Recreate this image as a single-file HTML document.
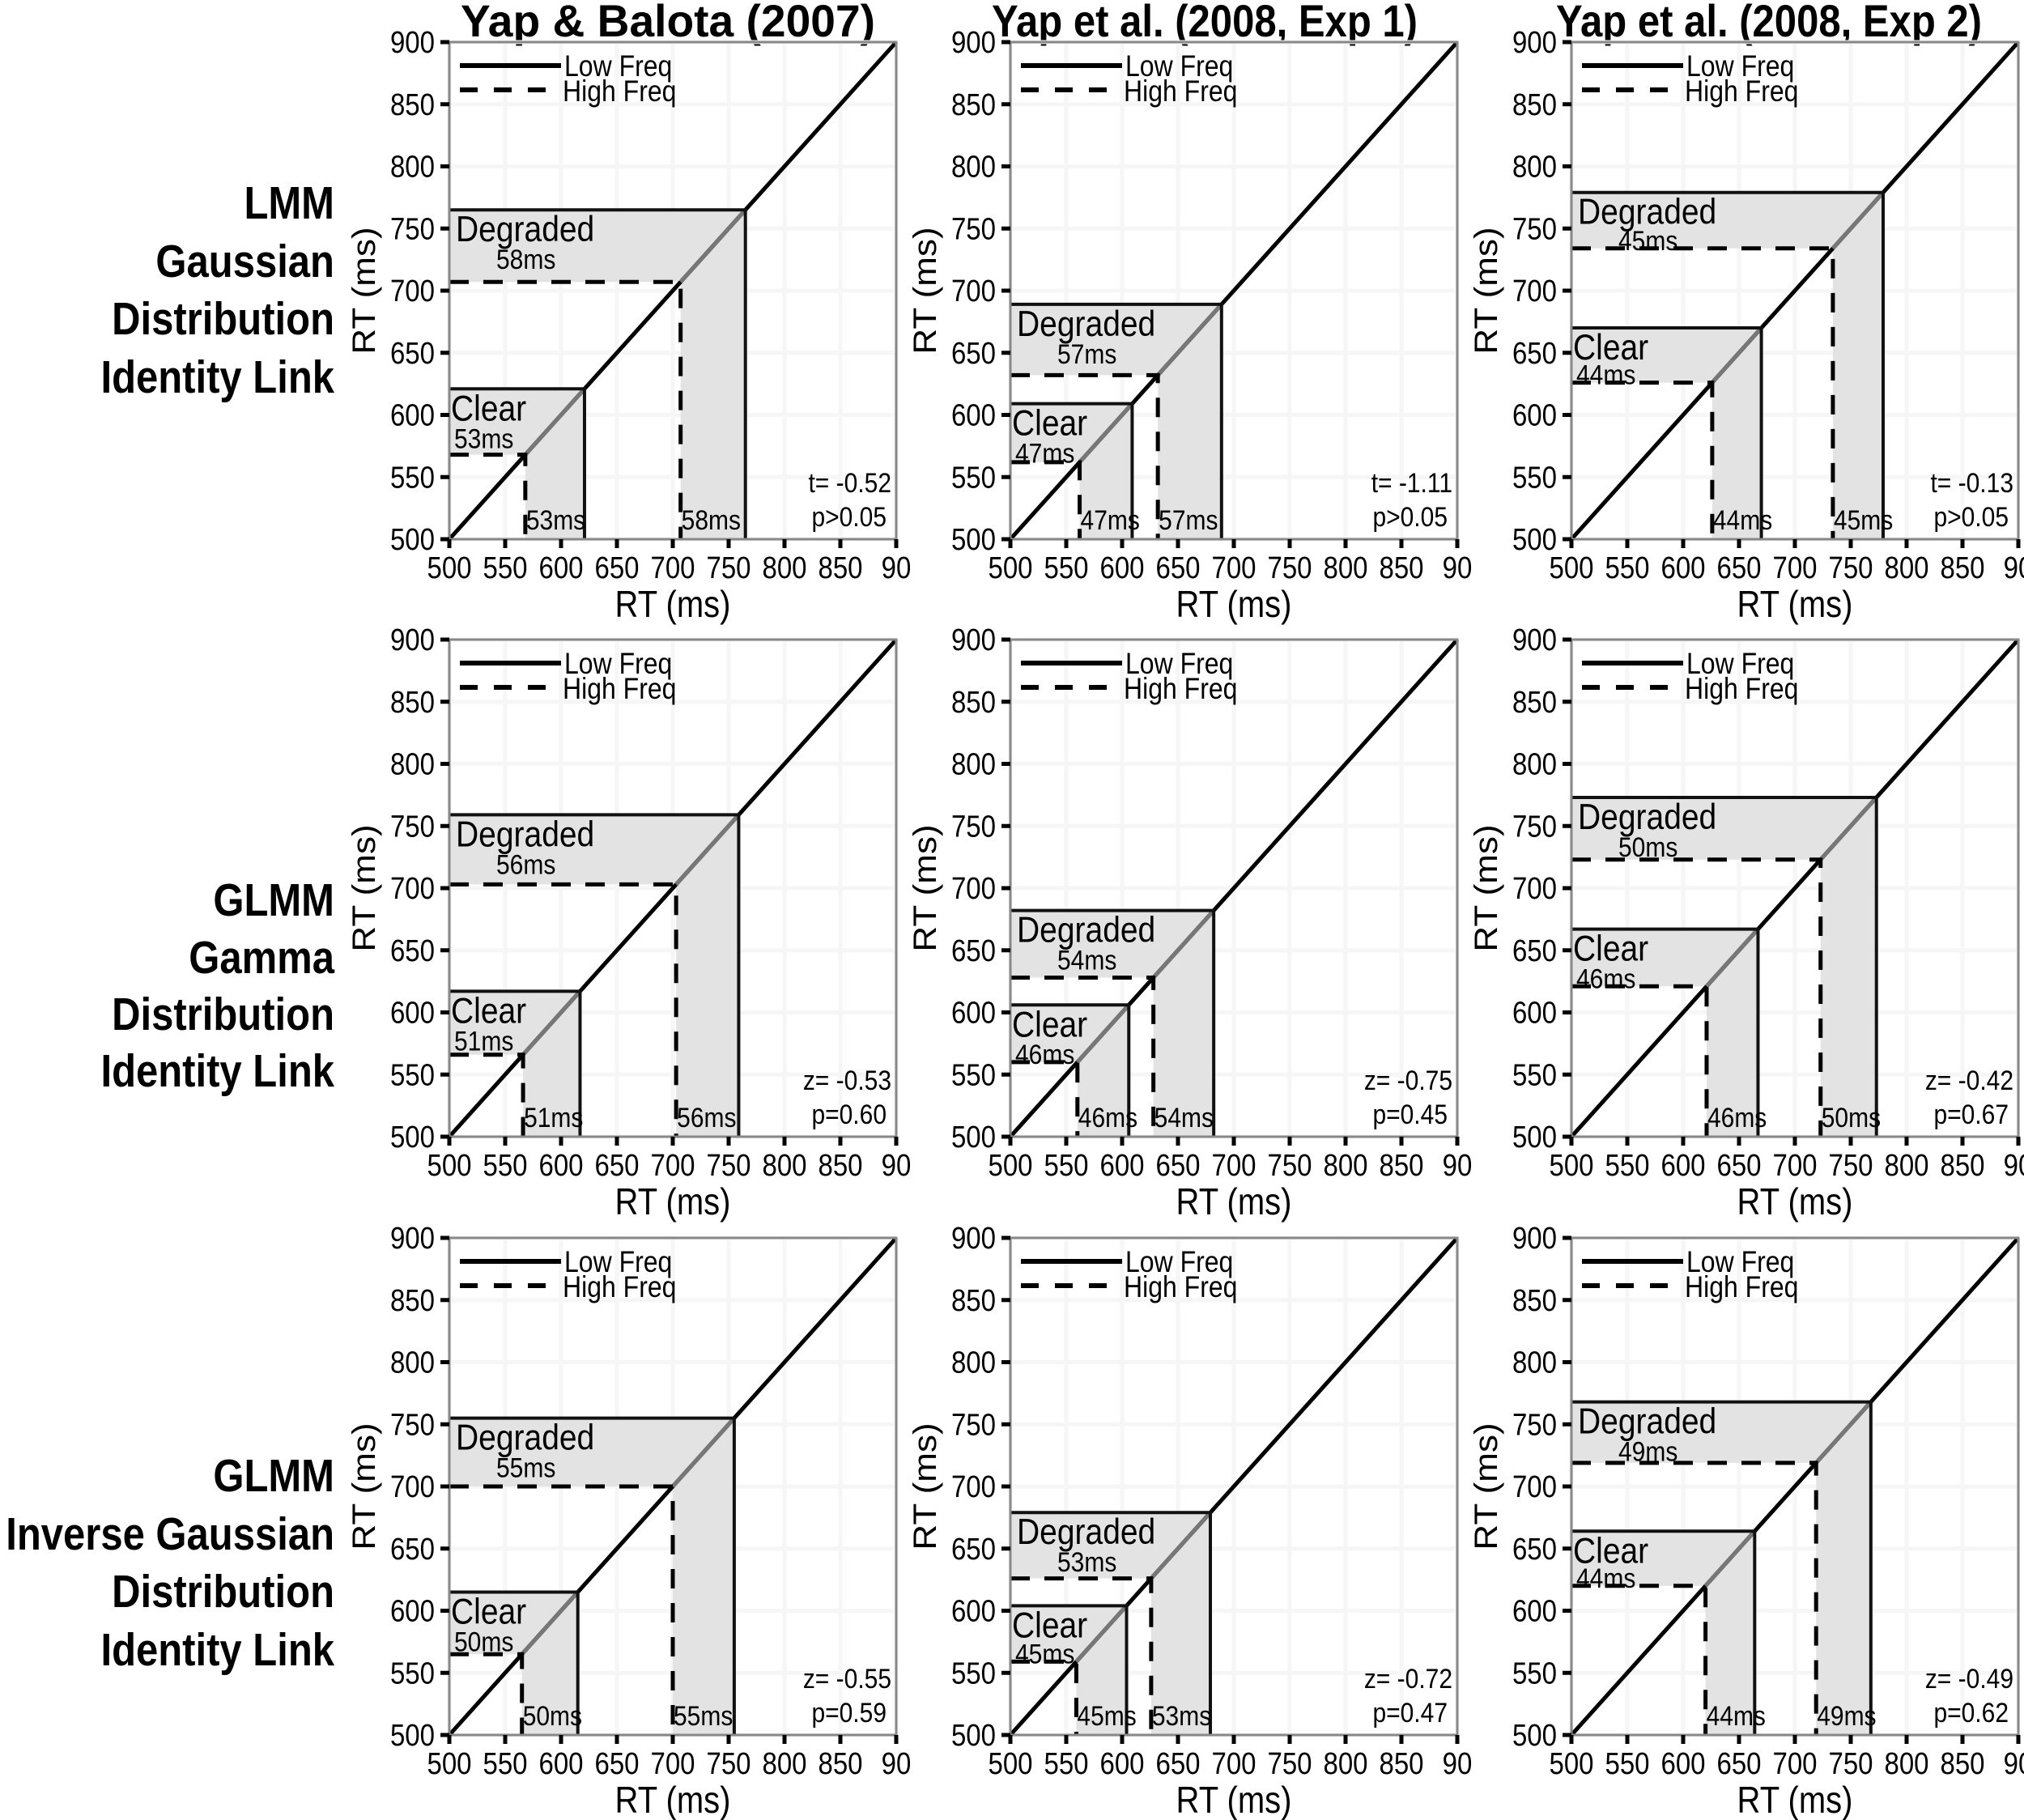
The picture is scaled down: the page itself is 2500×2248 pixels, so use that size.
<!DOCTYPE html>
<html><head><meta charset="utf-8"><style>
html,body{margin:0;padding:0;background:#fff}
svg{display:block;font-family:"Liberation Sans",Arial,sans-serif}
</style></head><body>
<svg id="fig" width="2500" height="2248" viewBox="0 0 2500 2248" xmlns="http://www.w3.org/2000/svg"></svg>
<script>
const colTitles = ["Yap & Balota (2007)", "Yap et al. (2008, Exp 1)", "Yap et al. (2008, Exp 2)"];
const colTitleCenters = [825, 1488, 2185];
const rowLabels = [["LMM","Gaussian","Distribution","Identity Link"],["GLMM","Gamma","Distribution","Identity Link"],["GLMM","Inverse Gaussian","Distribution","Identity Link"]];
const ticks = [500,550,600,650,700,750,800,850,900];
const tickLabels = ["500","550","600","650","700","750","800","850","90"];
const tickLabelsY = ["500","550","600","650","700","750","800","850","900"];
// per panel: clear low freq, clear high freq, degraded low freq, degraded high freq
const clearLF = [621,609,670, 617,606,667, 615,604,664];
const clearHF = [568,562,626, 566,560,621, 565,559,620];
const degLF   = [765,689,779, 759,682,773, 755,679,768];
const degHF   = [707,632,734, 703,628,723, 700,626,719];
const clearEff = ["53ms","47ms","44ms","51ms","46ms","46ms","50ms","45ms","44ms"];
const degEff   = ["58ms","57ms","45ms","56ms","54ms","50ms","55ms","53ms","49ms"];
const stat1 = ["t= -0.52","t= -1.11","t= -0.13","z= -0.53","z= -0.75","z= -0.42","z= -0.55","z= -0.72","z= -0.49"];
const stat2 = ["p>0.05","p>0.05","p>0.05","p=0.60","p=0.45","p=0.67","p=0.59","p=0.47","p=0.62"];

const NS="http://www.w3.org/2000/svg";
const svg=document.getElementById('fig');
function mk(tag,attrs,parent,text){const e=document.createElementNS(NS,tag);for(const k in attrs)e.setAttribute(k,attrs[k]);if(text!==undefined)e.textContent=text;(parent||svg).appendChild(e);return e;}
const SY=1.15;
function txt(parent,x,y,str,attrs){const a=Object.assign({x:0,y:0,transform:`translate(${x},${y}) scale(1,${SY})`},attrs);return mk('text',a,parent,str);}

const lefts=[555,1248,1941], tops=[52,790,1529], W=552, H=614;
const rowBase=[[268,340,411,483],[1129,1200,1270,1340],[1840,1912,1983,2055]];

colTitles.forEach((t,i)=>{
  const e=txt(svg,colTitleCenters[i],45,t,{'text-anchor':'middle','font-size':48,'font-weight':'bold',textLength:(i==0?512:526),lengthAdjust:'spacingAndGlyphs'});
  
  
});
rowLabels.forEach((lines,r)=>{
  lines.forEach((t,j)=>{
    const e=txt(svg,413,rowBase[r][j]+2,t,{'text-anchor':'end','font-size':49,'font-weight':'bold'});
    
    
  });
});

for(let r=0;r<3;r++)for(let c=0;c<3;c++){
  const k=r*3+c, L=lefts[c], T=tops[r];
  const g=mk('g',{});
  
  
  const sx=v=>L+(v-500)/400*W, sy=v=>T+H-(v-500)/400*H;
  ticks.forEach(v=>{
    mk('line',{x1:sx(v),x2:sx(v),y1:T,y2:T+H,stroke:'#f6f6f6','stroke-width':5},g);
    mk('line',{x1:L,x2:L+W,y1:sy(v),y2:sy(v),stroke:'#f6f6f6','stroke-width':5},g);
  });
  [[clearLF[k],clearHF[k]],[degLF[k],degHF[k]]].forEach(([lf,hf],ci)=>{
    const p=mk('path',{d:`M${sx(500)},${sy(lf)} L${sx(lf)},${sy(lf)} L${sx(lf)},${sy(500)} L${sx(hf)},${sy(500)} L${sx(hf)},${sy(hf)} L${sx(500)},${sy(hf)} Z`,fill:'#e3e3e3'},g);
    
    
  });
  const d=mk('line',{x1:sx(500),y1:sy(500),x2:sx(900),y2:sy(900),stroke:'#000','stroke-width':5},g);
  
  
  [[clearLF[k],clearHF[k]],[degLF[k],degHF[k]]].forEach(([lf,hf],ci)=>{
    mk('line',{x1:sx(hf),y1:sy(hf),x2:sx(lf),y2:sy(lf),stroke:'#777','stroke-width':5},g);
    const s1=mk('polyline',{points:`${sx(500)},${sy(lf)} ${sx(lf)},${sy(lf)} ${sx(lf)},${sy(500)}`,fill:'none',stroke:'#111','stroke-width':4},g);
    
    
    const s2=mk('polyline',{points:`${sx(500)},${sy(hf)} ${sx(hf)},${sy(hf)} ${sx(hf)},${sy(500)}`,fill:'none',stroke:'#000','stroke-width':5,'stroke-dasharray':'24 18'},g);
    
    
    const name=ci?'Degraded':'Clear';
    const t1=txt(g,L+(ci?8:2),sy(lf)+39,name,{'font-size':39});
    
    
    const ey=Math.min(sy(lf)+73,sy(hf)+2);
    const t2=txt(g,L+(ci?58:6),ey,ci?degEff[k]:clearEff[k],{'font-size':30});
    
    
    const t3=txt(g,sx(hf)+1,T+H-12,ci?degEff[k]:clearEff[k],{'font-size':30});
    
    
  });
  mk('rect',{x:L,y:T,width:W,height:H,fill:'none',stroke:'#888','stroke-width':3},g);
  ticks.forEach((v,i)=>{
    mk('line',{x1:L-11,x2:L,y1:sy(v),y2:sy(v),stroke:'#000','stroke-width':5},g);
    mk('line',{x1:sx(v),x2:sx(v),y1:T+H,y2:T+H+11,stroke:'#000','stroke-width':5},g);
    const ty=txt(g,L-18,sy(v)+13,tickLabelsY[i],{'text-anchor':'end','font-size':33});
    
    
    const tx=txt(g,sx(v),T+H+48,tickLabels[i],{'text-anchor':'middle','font-size':33});
    
    
  });
  const xt=txt(g,L+W/2,T+H+96,'RT (ms)',{'text-anchor':'middle','font-size':40});
  
  
  const yt=mk('text',{x:0,y:0,'text-anchor':'middle','font-size':40,transform:`translate(${L-106},${T+H/2}) rotate(-90) translate(0,14) scale(1.1,1)`},g,'RT (ms)');
  
  
  mk('line',{x1:L+13,x2:L+138,y1:T+29,y2:T+29,stroke:'#000','stroke-width':6},g);
  mk('line',{x1:L+13,x2:L+138,y1:T+59,y2:T+59,stroke:'#000','stroke-width':6,'stroke-dasharray':'22 20'},g);
  const l1=txt(g,L+142,T+42,'Low Freq',{'font-size':32});
  
  
  const l2=txt(g,L+140,T+73,'High Freq',{'font-size':32});
  
  
  const s1=txt(g,L+W-6,T+H-58,stat1[k],{'text-anchor':'end','font-size':30});
  
  
  const s2=txt(g,L+W-12,T+H-16,stat2[k],{'text-anchor':'end','font-size':30});
  
  
}
</script>
</body></html>
